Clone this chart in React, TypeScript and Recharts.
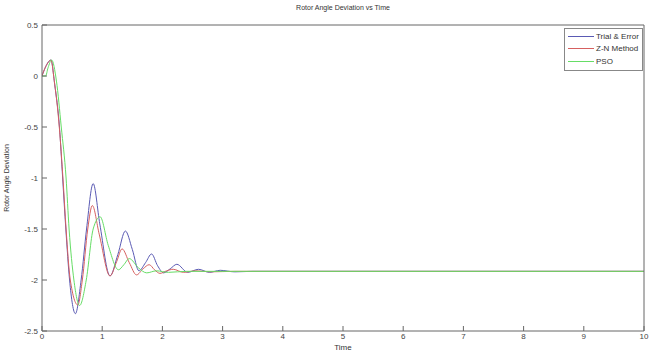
import React from 'react';
import { LineChart, Line, XAxis, YAxis, Legend, Label } from 'recharts';

// Trial & Error response
const trialTime = [0, 0.06, 0.15, 0.21, 0.29, 0.343, 0.396, 0.458, 0.555, 0.65, 0.74, 0.85, 0.96, 1.13, 1.26, 1.385, 1.5, 1.61, 1.72, 1.82, 1.92, 2.02, 2.13, 2.24, 2.42, 2.6, 2.78, 2.96, 3.2, 3.5, 10];
const trialValue = [0, 0.09, 0.157, -0.08, -0.5, -1.0, -1.5, -2.0, -2.33, -2.0, -1.5, -1.055, -1.45, -1.96, -1.75, -1.52, -1.7, -1.91, -1.83, -1.745, -1.86, -1.93, -1.89, -1.846, -1.925, -1.895, -1.925, -1.905, -1.92, -1.915, -1.915];

// Z-N Method response
const znTime = [0, 0.06, 0.15, 0.2, 0.29, 0.35, 0.4, 0.47, 0.595, 0.67, 0.76, 0.836, 0.95, 1.13, 1.24, 1.33, 1.45, 1.57, 1.68, 1.78, 1.87, 1.96, 2.07, 2.18, 2.35, 2.55, 2.8, 3.2, 10];
const znValue = [0, 0.09, 0.155, -0.03, -0.52, -1.02, -1.5, -2.0, -2.245, -2.0, -1.5, -1.27, -1.55, -1.96, -1.82, -1.695, -1.83, -1.95, -1.89, -1.85, -1.9, -1.935, -1.91, -1.895, -1.925, -1.91, -1.92, -1.915, -1.915];

// PSO response
const psoTime = [0, 0.06, 0.1, 0.16, 0.24, 0.32, 0.4, 0.45, 0.53, 0.625, 0.735, 0.85, 0.965, 1.1, 1.27, 1.36, 1.45, 1.6, 1.74, 1.9, 2.1, 2.4, 10];
const psoValue = [0, 0, 0.08, 0.157, -0.05, -0.5, -1.0, -1.5, -2.0, -2.25, -2.0, -1.5, -1.38, -1.66, -1.9, -1.85, -1.79, -1.88, -1.93, -1.91, -1.925, -1.915, -1.915];

const seriesNames = ['Trial & Error', 'Z-N Method', 'PSO'];
const seriesColors = ['#5a5ab4', '#d66060', '#66dd66'];

const xTicks = [0, 1, 2, 3, 4, 5, 6, 7, 8, 9, 10];
const yTicks = [-2.5, -2, -1.5, -1, -0.5, 0, 0.5];

const toPoints = (t: number[], v: number[]) => t.map((x, i) => ({ t: x, v: v[i] }));
const seriesData = [toPoints(trialTime, trialValue), toPoints(znTime, znValue), toPoints(psoTime, psoValue)];

const FONT = '"Liberation Sans", Arial, sans-serif';
const AXIS = '#666';

const renderLegend = (props: any) => {
  const items = [...(props.payload || [])].sort(
    (a: any, b: any) => seriesNames.indexOf(a.value) - seriesNames.indexOf(b.value)
  );
  return (
    <div style={{ boxSizing: 'border-box', width: 79, border: '1px solid #888', background: '#fff', padding: '1px 2px 2px 3px', fontFamily: FONT, fontSize: 8, color: '#333', whiteSpace: 'nowrap' }}>
      {items.map((e: any) => (
        <div key={e.value} style={{ display: 'flex', alignItems: 'center', height: 12.5 }}>
          <span style={{ display: 'inline-block', flex: 'none', width: 26, borderTop: `1px solid ${e.color}`, marginRight: 2 }} />
          <span>{e.value}</span>
        </div>
      ))}
    </div>
  );
};

const App = () => {
  const tickStyle = { fontSize: 8, fill: '#444', fontFamily: FONT };
  return (
    <div style={{ position: 'absolute', left: 0, top: 0, width: 653, height: 351, background: '#fff' }}>
      <div style={{ position: 'absolute', left: 0, top: 4, width: 686, textAlign: 'center', fontFamily: FONT, fontSize: 7, color: '#333' }}>
        Rotor Angle Deviation vs Time
      </div>
      <LineChart width={653} height={351} margin={{ top: 24, right: 8, bottom: 0, left: 0 }}>
        <XAxis xAxisId="b" dataKey="t" type="number" domain={[0, 10]} ticks={xTicks} allowDataOverflow
          height={20} stroke={AXIS} tickSize={-5} tickMargin={7} tick={tickStyle} interval={0}>
          <Label value="Time" position="insideBottom" offset={1} style={{ fontSize: 8, fill: '#333', fontFamily: FONT }} />
        </XAxis>
        <XAxis xAxisId="t" orientation="top" dataKey="t" type="number" domain={[0, 10]} ticks={xTicks}
          height={1} stroke={AXIS} tickSize={-5} tickFormatter={() => ''} interval={0} />
        <YAxis yAxisId="l" type="number" domain={[-2.5, 0.5]} ticks={yTicks} allowDataOverflow
          width={42} stroke={AXIS} tickSize={-5} tickMargin={9} tick={tickStyle} interval={0}>
          <Label value="Rotor Angle Deviation" angle={-90} position="insideLeft" offset={7}
            style={{ fontSize: 7, fill: '#333', fontFamily: FONT, textAnchor: 'middle' }} />
        </YAxis>
        <YAxis yAxisId="r" orientation="right" type="number" domain={[-2.5, 0.5]} ticks={yTicks}
          width={1} stroke={AXIS} tickSize={-5} tickFormatter={() => ''} interval={0} />
        <Legend layout="vertical" align="center" verticalAlign="middle" content={renderLegend}
          wrapperStyle={{ position: 'absolute', left: 564, top: 28, width: 79, height: 'auto' }} />
        {seriesData.map((d, i) => (
          <Line key={seriesNames[i]} xAxisId="b" yAxisId="l" data={d} dataKey="v" name={seriesNames[i]}
            type="monotone" stroke={seriesColors[i]} strokeWidth={1} dot={false} isAnimationActive={false} />
        ))}
      </LineChart>
    </div>
  );
};

export default App;
